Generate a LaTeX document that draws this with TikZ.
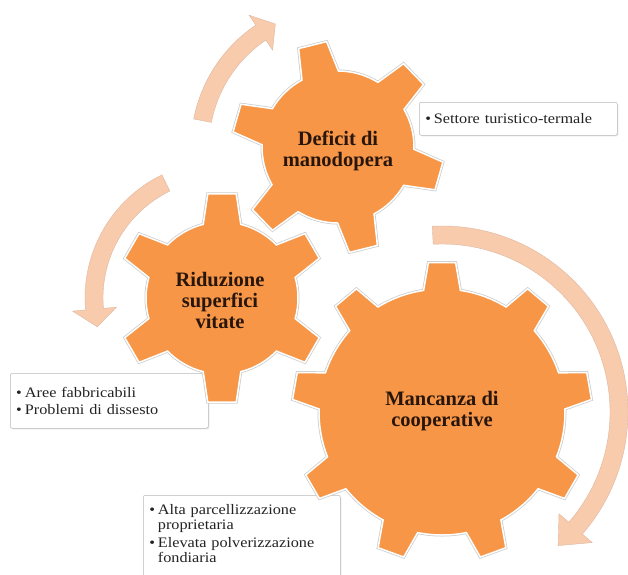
\documentclass[tikz,border=0pt]{standalone}
\usepackage{fontspec}
\setmainfont{Liberation Serif}
\newfontfamily\boxfont{Liberation Serif}[FakeStretch=1.12]
\usetikzlibrary{shadows}

\definecolor{gearorange}{RGB}{247,150,70}
\definecolor{arrowpeach}{RGB}{248,203,173}
\definecolor{arrowedge}{RGB}{222,182,160}
\definecolor{geartext}{RGB}{40,22,12}
\definecolor{boxtext}{RGB}{35,35,35}

\newcommand*{\bul}{\makebox[0.6em][l]{\textbullet}}
\newcommand*{\ind}{\makebox[0.6em]{}}

% gear: centre, teeth, first tooth angle, tip radius, body radius, tip half angle, base half angle
\newcommand*{\drawgear}[7]{%
	\pgfmathsetmacro{\gstep}{360/#2}
	\begin{scope}[shift={#1}]
		\path[gear] (#3-#7:#5)
		  \foreach \k in {1,...,#2} {
		    -- ({#3+(\k-1)*\gstep-#6}:#4) -- ({#3+(\k-1)*\gstep+#6}:#4)
		    -- ({#3+(\k-1)*\gstep+#7}:#5)
		    arc[start angle={#3+(\k-1)*\gstep+#7}, end angle={#3+\k*\gstep-#7}, radius=#5]
		  } -- cycle;
	\end{scope}
}

\begin{document}
\begin{tikzpicture}
[
	x=1pt, y=-1pt,
	gear/.style={fill=gearorange, draw=white, line width=1.5pt, preaction={draw=gray!40, line width=3pt}},
	turn/.style={fill=arrowpeach, draw=arrowedge, line width=0.4pt},
	infobox/.style={draw=gray!55, fill=white, line width=0.5pt, rounded corners=2pt,
	  anchor=north west, inner xsep=6pt, align=left, text=boxtext,
	  font={\boxfont\fontsize{14.5}{15.5}\selectfont},
	  drop shadow={shadow xshift=1.2pt, shadow yshift=-1.2pt, opacity=0.2}},
	gearlabel/.style={align=center, text=geartext, font={\bfseries\fontsize{20.5}{21}\selectfont}}
]

	\useasboundingbox (0,0) rectangle (628,574);

	% arrows
	\begin{scope}[shift={(338,147)}]
		\path[turn] (-169:147) arc[start angle=-169, end angle=-124, radius=147]
		  -- (-124:159) -- (-117:138) -- (-124:117) -- (-124:129)
		  arc[start angle=-124, end angle=-169, radius=129] -- cycle;
	\end{scope}
	\begin{scope}[shift={(222,298)}]
		\path[turn] (-116:137) arc[start angle=-116, end angle=-185, radius=137]
		  -- (-185:150) -- (-193:128) -- (-185:106) -- (-185:119)
		  arc[start angle=-185, end angle=-116, radius=119] -- cycle;
	\end{scope}
	\begin{scope}[shift={(442,412)}]
		\path[turn] (-93:186) arc[start angle=-93, end angle=41, radius=186]
		  -- (41:199) -- (49:177) -- (41:155) -- (41:168)
		  arc[start angle=41, end angle=-93, radius=168] -- cycle;
	\end{scope}

	% side boxes
	\node[infobox, minimum height=33pt, text width=186pt] (settore) at (419,102)
	  {\bul Settore turistico-termale};
	\node[infobox, minimum height=55pt, text width=186pt] (aree) at (10,373)
	  {\bul Aree fabbricabili\\[2pt]\bul Problemi di dissesto};
	\node[infobox, text width=185pt, inner ysep=9pt] (parcel) at (143,495)
	  {\bul Alta parcellizzazione\\\ind proprietaria\\[2pt]\bul Elevata polverizzazione\\\ind fondiaria\rule[-16pt]{0pt}{1pt}};

	% gears
	\drawgear{(222,298)}{6}{30}{105}{76}{7.8}{14.3}
	\drawgear{(338,147)}{6}{16}{106}{76}{7.8}{14.3}
	\drawgear{(442,412)}{9}{30}{150}{123}{5.2}{8.6}

	\node[gearlabel] (deficit) at (338,151) {Deficit di\\manodopera};
	\node[gearlabel] (riduzione) at (220,300) {Riduzione\\superfici\\vitate};
	\node[gearlabel] (mancanza) at (442,411) {Mancanza di\\cooperative};

\end{tikzpicture}
\end{document}
